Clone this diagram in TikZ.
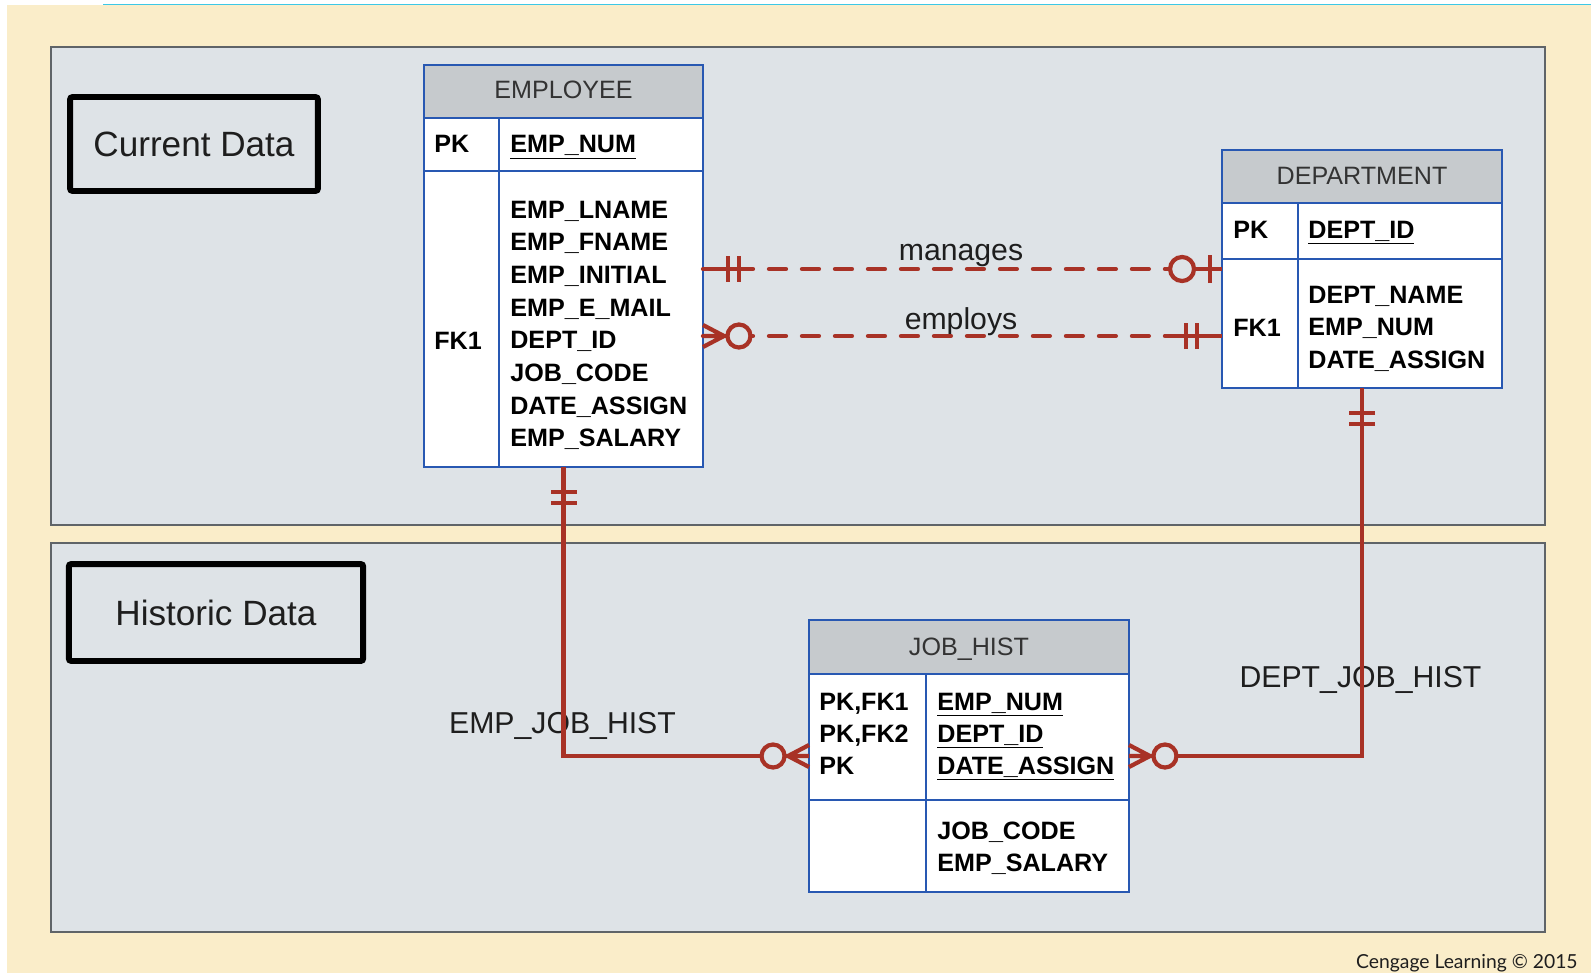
\documentclass[tikz,border=0pt]{standalone}
\usepackage{fontspec}
\setmainfont{Liberation Sans}
\newfontfamily\creditfont{Lato}

\definecolor{cream}{RGB}{250,237,201}
\definecolor{panelgray}{RGB}{222,227,231}
\definecolor{paneledge}{RGB}{95,100,104}
\definecolor{entblue}{RGB}{40,88,178}
\definecolor{hdrgray}{RGB}{198,202,205}
\definecolor{relred}{RGB}{168,50,38}
\definecolor{skyline}{RGB}{60,200,230}
\definecolor{ink}{RGB}{30,30,30}

\tikzset{
  panel/.style={fill=panelgray, draw=paneledge, line width=1.2pt},
  databox/.style={draw=black, line width=3.4pt, rounded corners=1.5pt, inner sep=0pt,
    font=\fontsize{20}{24}\selectfont, text=ink},
  entity/.style={fill=white, draw=entblue, line width=1.6pt, inner sep=0pt, outer sep=0pt},
  entline/.style={draw=entblue, line width=1.5pt},
  hdrtext/.style={anchor=base, inner sep=0pt, font=\fontsize{14.3}{17}\selectfont, text=black!80},
  keytext/.style={anchor=base west, inner sep=0pt, font=\fontsize{14.3}{17}\selectfont\bfseries, text=black},
  reltext/.style={anchor=base, inner sep=0pt, font=\fontsize{17.2}{20}\selectfont, text=ink},
  relline/.style={draw=relred, line width=2.4pt},
  reldash/.style={relline, line cap=round, dash pattern=on 0.34cm off 0.32cm},
  tipline/.style={draw=relred, line width=2.4pt, solid},
  % crow's foot ends, drawn outward along x from the entity edge
  mandone/.pic={\draw[tipline] (0,0) -- (46,0) (25,-13) -- (25,13) (36,-13) -- (36,13);},
  zeroone/.pic={\draw[tipline] (0,0) -- (28,0) (12,-14) -- (12,14);
    \draw[tipline, fill=panelgray] (40,0) circle[radius=12];},
  zeromany/.pic={\draw[tipline] (0,0) -- (26,0) (0,-11) -- (21,0) -- (0,11);
    \draw[tipline, fill=panelgray] (36,0) circle[radius=11.5];}
}

\begin{document}
\begin{tikzpicture}[x=0.02cm, y=-0.02cm]
  \useasboundingbox (0,0) rectangle (1591,973);

  % page
  \fill[white] (0,0) rectangle (1591,973);
  \fill[cream] (7,5) rectangle (1591,973);
  \draw[skyline, line width=0.8pt] (103,4.5) -- (1591,4.5);

  % current / historic panels
  \draw[panel] (51,47) rectangle (1545,525);
  \draw[panel] (51,543) rectangle (1545,932);

  \node[databox, minimum width=4.96cm, minimum height=1.88cm] (cur) at (194,144) {Current Data};
  \node[databox, minimum width=5.89cm, minimum height=1.94cm] (hist) at (216,612.5) {Historic Data};

  % relationship names
  \node[reltext] (mgl) at (961,260) {manages};
  \node[reltext] (eml) at (961,329) {employs};
  \node[reltext] (ejh) at (562.5,733) {EMP\_JOB\_HIST};
  \node[reltext] (djh) at (1360.5,687) {DEPT\_JOB\_HIST};

  % entities
  \node[entity, minimum width=5.58cm, minimum height=8.04cm] (emp) at (563.5,266) {};
  \node[entity, minimum width=5.6cm, minimum height=4.76cm] (dept) at (1362,269) {};
  \node[entity, minimum width=6.4cm, minimum height=5.44cm] (jh) at (969,756) {};

  % EMPLOYEE
  \fill[hdrgray] (emp.north west) rectangle (emp.east |- 0,118);
  \draw[entline] (emp.west |- 0,118) -- (emp.east |- 0,118)
                 (emp.west |- 0,171) -- (emp.east |- 0,171)
                 (499,118) -- (emp.south -| 499,0);
  \draw[entline, line width=1.6pt] (emp.north west) rectangle (emp.south east);
  \node[hdrtext] (emp-h) at (563.5,99) {EMPLOYEE};
  \node[keytext] (emp-pk) at (434,153) {PK};
  \node[keytext] (emp-id) at (510,153) {\underline{EMP\_NUM}};
  \node[keytext] (emp-fk) at (434,349) {FK1};
  \foreach \fld [count=\i from 0] in {EMP\_LNAME, EMP\_FNAME, EMP\_INITIAL, EMP\_E\_MAIL,
      DEPT\_ID, JOB\_CODE, DATE\_ASSIGN, EMP\_SALARY}
    \node[keytext] (emp-a\i) at (510,218+32.7*\i) {\fld};

  % DEPARTMENT
  \fill[hdrgray] (dept.north west) rectangle (dept.east |- 0,203);
  \draw[entline] (dept.west |- 0,203) -- (dept.east |- 0,203)
                 (dept.west |- 0,259) -- (dept.east |- 0,259)
                 (1298,203) -- (dept.south -| 1298,0);
  \draw[entline, line width=1.6pt] (dept.north west) rectangle (dept.south east);
  \node[hdrtext] (dept-h) at (1362,185) {DEPARTMENT};
  \node[keytext] (dept-pk) at (1233,238) {PK};
  \node[keytext] (dept-id) at (1308,238) {\underline{DEPT\_ID}};
  \node[keytext] (dept-fk) at (1233,336) {FK1};
  \foreach \fld [count=\i from 0] in {DEPT\_NAME, EMP\_NUM, DATE\_ASSIGN}
    \node[keytext] (dept-a\i) at (1308,303+32.5*\i) {\fld};

  % JOB_HIST
  \fill[hdrgray] (jh.north west) rectangle (jh.east |- 0,674);
  \draw[entline] (jh.west |- 0,674) -- (jh.east |- 0,674)
                 (jh.west |- 0,800) -- (jh.east |- 0,800)
                 (926,674) -- (jh.south -| 926,0);
  \draw[entline, line width=1.6pt] (jh.north west) rectangle (jh.south east);
  \node[hdrtext] (jh-h) at (969,655) {JOB\_HIST};
  \foreach \fld/\key [count=\i from 0] in {EMP\_NUM/{PK,FK1}, DEPT\_ID/{PK,FK2}, DATE\_ASSIGN/PK} {
    \node[keytext] (jh-k\i) at (819,710+32*\i) {\key};
    \node[keytext] (jh-p\i) at (937,710+32*\i) {\underline{\fld}};
  }
  \node[keytext] (jh-a0) at (937,839) {JOB\_CODE};
  \node[keytext] (jh-a1) at (937,871) {EMP\_SALARY};

  % relationships
  \coordinate (emY) at (0,336);
  \draw[reldash] (emp.east |- dept.west) -- (dept.west);
  \draw[reldash] (emp.east |- emY) -- (dept.west |- emY);
  \draw[relline] (emp.south) |- (jh.west);
  \draw[relline] (dept.south) |- (jh.east);

  \pic at (emp.east |- dept.west) {mandone};
  \pic[rotate=180] at (dept.west) {zeroone};
  \pic at (emp.east |- emY) {zeromany};
  \pic[rotate=180] at (dept.west |- emY) {mandone};
  \pic[rotate=-90] at (emp.south) {mandone};
  \pic[rotate=180] at (jh.west) {zeromany};
  \pic[rotate=-90] at (dept.south) {mandone};
  \pic at (jh.east) {zeromany};

  \node[anchor=base east, inner sep=0pt, font=\creditfont\fontsize{11}{13}\selectfont, text=ink] (credit)
    at (1578,968) {Cengage Learning © 2015};
\end{tikzpicture}
\end{document}
